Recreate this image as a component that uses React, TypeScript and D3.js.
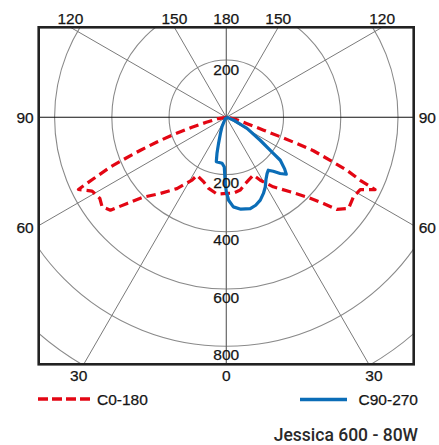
import React from "react";
import * as d3 from "d3";

// ---- data (angles in degrees from nadir, intensities in cd/klm) ----
const ringValues = [200, 400, 600, 800, 1000];
const ringLabelValues = [200, 400, 600, 800];
const spokeAngles = [30, 60, 90, 120, 150];
const sideLabelAngles = [90, 60];
const topLabelAngles = [120, 150];
const bottomLabelAngles = [30];

// C0-180, left half (C180)
const c180Angles = [0, 6.9, 13.9, 19.3, 26.8, 28.6, 34.7, 40.9, 46, 49, 51.3, 54.2, 57.3, 61.2, 64, 65.2, 66.8, 67.8, 69, 70.4, 72, 73.8, 76, 81, 90];
const c180Values = [266, 270, 256, 239, 227, 250, 303, 352, 401, 459, 519, 535, 525, 535, 575, 510, 440, 381, 321, 257, 193, 125, 72, 28, 0];
// C0-180, right half (C0)
const c0Angles = [0, 5.3, 10.9, 16, 19.5, 25, 28.4, 34, 40.6, 45.3, 48.4, 50.2, 53.3, 58, 61.6, 64.1, 64.8, 66.3, 67.5, 69.0, 69.6, 70.2, 71, 73, 77, 81, 90];
const c0Values = [266, 266, 259, 241, 233, 223, 250, 293, 343, 396, 454, 503, 533, 524, 532, 578, 517, 460, 393, 326, 263, 201, 138, 76, 35, 12, 0];
// C90-270, right half (C90)
const c90Angles = [0, 1.6, 4.5, 9, 14.7, 18.5, 22.3, 26, 29.2, 32.5, 35.9, 38.4, 41, 43.8, 46.5, 48.5, 51.5, 52.5, 55.9, 62, 69, 78, 90];
const c90Values = [260, 290, 314, 325, 330, 324, 313, 296, 279, 258, 243, 236, 250, 272, 289, 272, 241, 207, 143, 82, 26, 5, 0];
// C90-270, left half (C270)
const c270Angles = [0, 0.9, 2.3, 5.3, 12.7, 14.5, 16.5, 20, 24.6, 30, 40, 90];
const c270Values = [260, 231, 174, 161, 159, 130, 95, 60, 36, 12, 3, 0];

const legendLabels = ["C0-180", "C90-270"];
const title = "Jessica 600 - 80W";

// ---- layout ----
const W = 439;
const H = 445;
const box = { x0: 38.7, y0: 27.3, x1: 413.7, y1: 364.3 };
const cx = 226.3;
const cy = 117.3;
const RED = "#e30613";
const BLUE = "#0b6db7";
const FONT = "'Liberation Sans', Arial, sans-serif";

const r = d3.scaleLinear().domain([0, 1000]).range([0, 286.2]);
const rad = (deg: number) => (deg * Math.PI) / 180;

// build a full C-plane curve: left half (angle pi+theta) then right half (pi-theta)
function planePoints(leftA: number[], leftV: number[], rightA: number[], rightV: number[]) {
  const pts: [number, number][] = [];
  for (let i = leftA.length - 1; i >= 0; i--) pts.push([Math.PI + rad(leftA[i]), r(leftV[i])]);
  for (let i = 1; i < rightA.length; i++) pts.push([Math.PI - rad(rightA[i]), r(rightV[i])]);
  return pts;
}

const radial = d3.lineRadial<[number, number]>().angle((d) => d[0]).radius((d) => d[1]).curve(d3.curveLinear);

// intersection of a ray from center (theta from nadir, side ±1) with the box
function hitBox(theta: number, side: number) {
  const dx = side * Math.sin(rad(theta));
  const dy = Math.cos(rad(theta));
  let t = Infinity;
  if (dx > 1e-9) t = Math.min(t, (box.x1 - cx) / dx);
  if (dx < -1e-9) t = Math.min(t, (box.x0 - cx) / dx);
  if (dy > 1e-9) t = Math.min(t, (box.y1 - cy) / dy);
  if (dy < -1e-9) t = Math.min(t, (box.y0 - cy) / dy);
  return [cx + dx * t, cy + dy * t];
}

export default function App() {
  const redPath = radial(planePoints(c180Angles, c180Values, c0Angles, c0Values)) || "";
  const bluePath = radial(planePoints(c270Angles, c270Values, c90Angles, c90Values)) || "";
  const labelStyle = { fontFamily: FONT, fontSize: 15.5, fill: "#151515", stroke: "#151515", strokeWidth: 0.25 } as const;

  return (
    <svg width={W} height={H} style={{ position: "absolute", left: 0, top: 0, background: "#fff" }}>
      <defs>
        <clipPath id="boxclip">
          <rect x={box.x0} y={box.y0} width={box.x1 - box.x0} height={box.y1 - box.y0} />
        </clipPath>
      </defs>
      <g clipPath="url(#boxclip)">
        {ringValues.map((v) => (
          <circle key={v} cx={cx} cy={cy} r={r(v)} fill="none" stroke="#8a8a8a" strokeWidth={1.1} />
        ))}
        {spokeAngles.filter((a) => a !== 90).map((a) =>
          [-1, 1].map((s) => {
            const [x, y] = hitBox(a, s);
            return <line key={a + "_" + s} x1={cx} y1={cy} x2={x} y2={y} stroke="#7a7a7a" strokeWidth={1} />;
          })
        )}
        <line x1={cx} y1={box.y0} x2={cx} y2={box.y1} stroke="#666" strokeWidth={1.2} />
        <line x1={box.x0} y1={cy} x2={box.x1} y2={cy} stroke="#111" strokeWidth={1.1} />
        <g transform={`translate(${cx},${cy})`}>
          <path d={redPath} fill="none" stroke={RED} strokeWidth={3.2} strokeDasharray="9.5 5" strokeLinejoin="round" />
          <path d={bluePath} fill="none" stroke={BLUE} strokeWidth={3.2} strokeLinejoin="round" />
        </g>
      </g>
      {/* ring labels */}
      <text x={cx} y={cy - r(200) + 9} textAnchor="middle" dominantBaseline="central" style={labelStyle}>
        {ringLabelValues[0]}
      </text>
      {ringLabelValues.map((v) => (
        <text key={v} x={cx} y={cy + r(v) + 8} textAnchor="middle" dominantBaseline="central" style={labelStyle}>
          {v}
        </text>
      ))}
      <rect x={box.x0} y={box.y0} width={box.x1 - box.x0} height={box.y1 - box.y0} fill="none" stroke="#222" strokeWidth={2.6} />
      {/* angle labels */}
      {topLabelAngles.map((a) =>
        [-1, 1].map((s) => {
          const [x] = hitBox(a, s);
          return (
            <text key={"t" + a + s} x={x} y={box.y0 - 9} textAnchor="middle" dominantBaseline="central" style={labelStyle}>
              {a}
            </text>
          );
        })
      )}
      <text x={cx} y={box.y0 - 9} textAnchor="middle" dominantBaseline="central" style={labelStyle}>180</text>
      {sideLabelAngles.map((a) =>
        [-1, 1].map((s) => {
          const [, y] = hitBox(a, s);
          return (
            <text key={"s" + a + s} x={s < 0 ? box.x0 - 5 : box.x1 + 5} y={y + (a === 90 ? 0 : 2)} textAnchor={s < 0 ? "end" : "start"} dominantBaseline="central" style={labelStyle}>
              {a}
            </text>
          );
        })
      )}
      {bottomLabelAngles.map((a) =>
        [-1, 1].map((s) => {
          const [x] = hitBox(a, s);
          return (
            <text key={"b" + a + s} x={x + s * 5} y={box.y1 + 11} textAnchor="middle" dominantBaseline="central" style={labelStyle}>
              {a}
            </text>
          );
        })
      )}
      <text x={cx} y={box.y1 + 11} textAnchor="middle" dominantBaseline="central" style={labelStyle}>0</text>
      {/* legend */}
      <line x1={38} y1={399} x2={91} y2={399} stroke={RED} strokeWidth={3.6} strokeDasharray="10 4" />
      <text x={97} y={399} dominantBaseline="central" style={labelStyle}>{legendLabels[0]}</text>
      <line x1={300} y1={399.5} x2={347} y2={399.5} stroke={BLUE} strokeWidth={3.6} />
      <text x={418} y={399} textAnchor="end" dominantBaseline="central" style={labelStyle}>{legendLabels[1]}</text>
      <text x={418} y={435} textAnchor="end" dominantBaseline="central" style={{ fontFamily: "Roboto, sans-serif", fontSize: 17.5, fontWeight: 500, fill: "#2a2a2a" }}>
        {title}
      </text>
    </svg>
  );
}
